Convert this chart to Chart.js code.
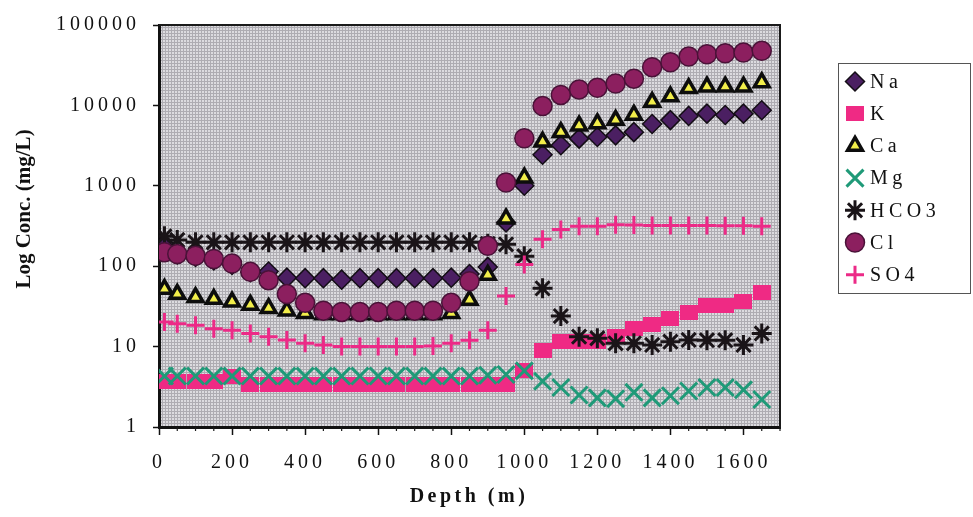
<!DOCTYPE html>
<html lang="en">
<head>
  <meta charset="UTF-8" />
  <title>Log Conc. vs Depth</title>
  <script src="https://cdn.jsdelivr.net/npm/chart.js"></script>
  <style>
    body { margin: 0; background: #fff; }
    .chart-box { width: 973px; height: 517px; position: relative; }
  </style>
</head>
<body>
  <div class="chart-box"><canvas id="concChart"></canvas></div>

  <script>
    // depth of each sample (m)
    const depth = [15, 50, 100, 150, 200, 250, 300, 350, 400, 450, 500, 550, 600, 650, 700, 750, 800, 850,
                   900, 950, 1000, 1050, 1100, 1150, 1200, 1250, 1300, 1350, 1400, 1450, 1500, 1550, 1600, 1650];

    // concentrations (mg/L)
    const na   = [190, 140, 130, 118, 104, 84, 86, 72, 71, 71, 68, 71, 71, 71, 71, 71, 72, 80,
                  98, 350, 1000, 2430, 3200, 3860, 4040, 4240, 4650, 5860, 6560, 7400, 7900, 7600, 7900, 8700];
    const k    = [3.7, 3.7, 3.7, 3.7, 4.3, 3.4, 3.4, 3.4, 3.4, 3.4, 3.4, 3.4, 3.4, 3.4, 3.4, 3.4, 3.4, 3.4,
                  3.4, 3.4, 5.0, 9, 11.5, 11.5, 11.5, 13.5, 17, 19, 22.5, 26.5, 32, 32, 36, 47];
    const ca   = [52, 45, 41, 39, 36, 33, 30, 28, 26, 25, 25, 25, 25, 25, 25, 25, 26, 38,
                  78, 390, 1260, 3520, 4650, 5600, 5970, 6560, 7600, 11000, 12900, 16300, 17100, 17100, 17100, 19300];
    const mg   = [4.3, 4.3, 4.3, 4.3, 4.3, 4.3, 4.3, 4.3, 4.3, 4.3, 4.3, 4.3, 4.3, 4.3, 4.3, 4.3, 4.3, 4.3,
                  4.4, 4.5, 5.0, 3.7, 3.1, 2.5, 2.3, 2.25, 2.7, 2.3, 2.45, 2.8, 3.1, 3.1, 2.9, 2.2];
    const hco3 = [235, 212, 198, 198, 198, 198, 198, 198, 198, 198, 198, 198, 198, 198, 198, 198, 198, 198,
                  190, 187, 133, 53, 24, 13.3, 12.7, 11, 11, 10.5, 11.5, 12.1, 12, 12, 10.5, 14.6];
    const cl   = [149, 142, 135, 123, 108, 85, 67, 45, 35, 28, 27, 27, 27, 28, 28, 28, 35, 65,
                  179, 1100, 3900, 9800, 13500, 15800, 16600, 18700, 21500, 29900, 34400, 40600, 43300, 44600, 45400, 47700];
    const so4  = [20.2, 19.2, 18.4, 16.7, 16, 14.6, 13.3, 12.1, 11, 10.5, 10, 10, 10, 10, 10, 10.2, 11, 12,
                  16, 42.5, 105, 216, 286, 313, 313, 328, 325, 320, 320, 320, 320, 318, 318, 313];

    const xTicks = [0, 200, 400, 600, 800, 1000, 1200, 1400, 1600];
    const yTicks = [1, 10, 100, 1000, 10000, 100000];

    const serif = "'Liberation Serif', 'Times New Roman', serif";

    // K marker: wide pink block
    const kBox = document.createElement('canvas');
    kBox.width = 18; kBox.height = 15;
    const kc = kBox.getContext('2d');
    kc.fillStyle = '#ef2a84';
    kc.fillRect(0, 0, 18, 15);

    // stippled grey plot background
    const bgTile = document.createElement('canvas');
    bgTile.width = 3; bgTile.height = 3;
    const bc = bgTile.getContext('2d');
    bc.fillStyle = '#dcdbdf';
    bc.fillRect(0, 0, 3, 3);
    bc.fillStyle = '#aeacb2';
    bc.fillRect(0, 0, 3, 1);
    bc.fillRect(0, 0, 1, 3);

    const pts = arr => depth.map((d, i) => ({ x: d, y: arr[i] }));

    const frame = {
      id: 'frame',
      beforeDraw(chart) {
        const { ctx, chartArea: a } = chart;
        ctx.save();
        ctx.fillStyle = ctx.createPattern(bgTile, 'repeat');
        ctx.fillRect(a.left, a.top, a.right - a.left, a.bottom - a.top);
        ctx.restore();
        ctx.letterSpacing = '4px';
      },
      afterDraw(chart) {
        const { ctx, chartArea: a } = chart;
        const x = chart.scales.x;
        ctx.save();
        ctx.letterSpacing = '0px';

        // top and right edges of the plot
        ctx.strokeStyle = '#1a1a1a';
        ctx.lineWidth = 2;
        ctx.beginPath();
        ctx.moveTo(a.left, a.top);
        ctx.lineTo(a.right, a.top);
        ctx.lineTo(a.right, a.bottom);
        ctx.stroke();

        // minor x ticks every 50 m
        ctx.lineWidth = 1.2;
        for (let v = 50; v <= 1700; v += 50) {
          if (v % 200 === 0) continue;
          const px = x.getPixelForValue(v);
          ctx.beginPath();
          ctx.moveTo(px, a.bottom);
          ctx.lineTo(px, a.bottom + 4);
          ctx.stroke();
        }

        // axis titles
        ctx.fillStyle = '#111';
        ctx.textAlign = 'center';
        ctx.textBaseline = 'middle';
        ctx.font = 'bold 20px ' + serif;
        ctx.letterSpacing = '3.5px';
        ctx.fillText('Depth (m)', 469, 497);
        ctx.letterSpacing = '0px';
        ctx.save();
        ctx.translate(25, 209);
        ctx.rotate(-Math.PI / 2);
        ctx.font = 'bold 21px ' + serif;
        ctx.fillText('Log Conc. (mg/L)', 0, 0);
        ctx.restore();

        // legend box
        ctx.strokeStyle = '#555';
        ctx.lineWidth = 1;
        ctx.strokeRect(838.5, 63.5, 132, 230);
        ctx.font = '20px ' + serif;
        ctx.letterSpacing = '4.5px';
        ctx.textAlign = 'left';
        chart.data.datasets.forEach((ds, i) => {
          const y = 81.5 + i * 32.2;
          ctx.save();
          ctx.fillStyle = ds.pointBackgroundColor;
          ctx.strokeStyle = ds.pointBorderColor;
          ctx.lineWidth = ds.pointBorderWidth;
          Chart.helpers.drawPoint(ctx, {
            pointStyle: ds.pointStyle, radius: ds.pointRadius,
            rotation: 0, borderWidth: ds.pointBorderWidth
          }, 855, y);
          ctx.restore();
          ctx.fillStyle = '#111';
          ctx.fillText(ds.label, 870, y + 1);
        });
        ctx.restore();
      }
    };

    new Chart(document.getElementById('concChart'), {
      type: 'scatter',
      data: {
        datasets: [
          { label: 'Na', data: pts(na), order: 7, pointStyle: 'rectRot', pointRadius: 9.5,
            pointBackgroundColor: '#4b1f62', pointBorderColor: '#140e16', pointBorderWidth: 1.5 },
          { label: 'K', data: pts(k), order: 6, pointStyle: kBox, pointRadius: 8,
            pointBackgroundColor: '#ef2a84', pointBorderColor: '#ef2a84', pointBorderWidth: 0 },
          { label: 'Ca', data: pts(ca), order: 5, pointStyle: 'triangle', pointRadius: 8.5,
            pointBackgroundColor: '#f2ee4a', pointBorderColor: '#0d0d0d', pointBorderWidth: 3.5 },
          { label: 'Mg', data: pts(mg), order: 4, pointStyle: 'crossRot', pointRadius: 12,
            pointBackgroundColor: '#1f9a78', pointBorderColor: '#1f9a78', pointBorderWidth: 3 },
          { label: 'HCO3', data: pts(hco3), order: 3, pointStyle: 'star', pointRadius: 10,
            pointBackgroundColor: '#1a1418', pointBorderColor: '#1a1418', pointBorderWidth: 3 },
          { label: 'Cl', data: pts(cl), order: 2, pointStyle: 'circle', pointRadius: 9.5,
            pointBackgroundColor: '#8c1f5f', pointBorderColor: '#4a1238', pointBorderWidth: 1.5 },
          { label: 'SO4', data: pts(so4), order: 1, pointStyle: 'cross', pointRadius: 9,
            pointBackgroundColor: '#ec2a87', pointBorderColor: '#ec2a87', pointBorderWidth: 3 }
        ]
      },
      options: {
        responsive: true,
        maintainAspectRatio: false,
        animation: false,
        layout: { padding: { left: 0, top: 15, right: 193, bottom: 0 } },
        plugins: { legend: { display: false }, tooltip: { enabled: false } },
        scales: {
          x: {
            type: 'linear', min: 0, max: 1700,
            afterBuildTicks: s => { s.ticks = xTicks.map(v => ({ value: v })); },
            afterFit: s => { s.height = 90; },
            ticks: { color: '#111', padding: 16, maxRotation: 0, font: { family: serif, size: 20 },
                     callback: v => String(v) },
            grid: { drawOnChartArea: false, tickLength: 8, tickColor: '#111', tickWidth: 1.5 },
            border: { color: '#111', width: 3 }
          },
          y: {
            type: 'logarithmic', min: 1, max: 100000,
            afterBuildTicks: s => { s.ticks = yTicks.map(v => ({ value: v })); },
            afterFit: s => { s.width = 159; },
            ticks: { color: '#111', padding: 13, font: { family: serif, size: 20 },
                     callback: v => String(v) },
            grid: { drawOnChartArea: false, tickLength: 6, tickColor: '#111', tickWidth: 1.5 },
            border: { color: '#111', width: 3 }
          }
        }
      },
      plugins: [frame]
    });
  </script>
</body>
</html>
